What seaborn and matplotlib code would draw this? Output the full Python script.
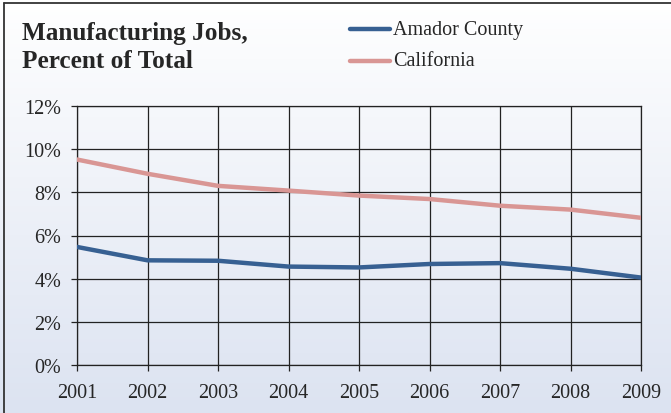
import numpy as np
import pandas as pd
import matplotlib
matplotlib.use("Agg")
import matplotlib.pyplot as plt
import seaborn as sns
from matplotlib.ticker import PercentFormatter

years = [2001, 2002, 2003, 2004, 2005, 2006, 2007, 2008, 2009]
amador = [5.47, 4.85, 4.83, 4.56, 4.52, 4.68, 4.72, 4.46, 4.05]
california = [9.52, 8.86, 8.30, 8.08, 7.85, 7.69, 7.38, 7.20, 6.82]
series_names = ["Amador County", "California"]
series_colors = ["#376092", "#d99694"]


def main():
    df = pd.DataFrame({
        "Year": years * 2,
        "Share": amador + california,
        "Series": [series_names[0]] * len(years) + [series_names[1]] * len(years),
    })

    sns.set_style("white")
    plt.rcParams["font.family"] = "serif"
    plt.rcParams["font.serif"] = ["Liberation Serif", "DejaVu Serif"]

    W, H = 671, 414
    fig = plt.figure(figsize=(W / 100, H / 100), dpi=100)

    # gradient background
    bg = fig.add_axes([0, 0, 1, 1], zorder=-10)
    grad = np.linspace(0, 1, 256).reshape(-1, 1)
    cmap = matplotlib.colors.LinearSegmentedColormap.from_list(
        "bg", ["#ffffff", "#dce3f1"])
    bg.imshow(grad, aspect="auto", cmap=cmap, extent=[0, 1, 0, 1], origin="upper")
    bg.set_axis_off()

    # frame: only top and left edges visible (cropped chart)
    edge = dict(color="#333333", linewidth=1.3, transform=fig.transFigure)
    fig.add_artist(matplotlib.lines.Line2D([3.5 / W, 1], [1 - 4 / H, 1 - 4 / H], **edge))
    fig.add_artist(matplotlib.lines.Line2D([3.5 / W, 3.5 / W], [0, 1 - 4 / H], **edge))

    ax = fig.add_axes([77 / W, 48 / H, 564 / W, 259 / H])
    ax.set_facecolor("none")
    sns.lineplot(data=df, x="Year", y="Share", hue="Series", palette=series_colors,
                 linewidth=3.2, ax=ax, legend=False, zorder=3)

    ax.set_xlim(2001, 2009)
    ax.set_ylim(0, 12)
    ax.set_xticks(years)
    ax.set_yticks(range(0, 13, 2))
    ax.yaxis.set_major_formatter(PercentFormatter(decimals=0))
    ax.grid(True, color="#222222", linewidth=0.9)
    for s in ax.spines.values():
        s.set_color("#222222")
        s.set_linewidth(0.9)
    ax.tick_params(axis="both", direction="out", length=4.5, width=0.9, color="#222222",
                   labelsize=14.5, left=True, bottom=True)
    ax.tick_params(axis="x", pad=8.5)
    ax.tick_params(axis="y", pad=7)
    ax.set_xlabel("")
    ax.set_ylabel("")

    fig.text(22 / W, 1 - 47.5 / H, "Manufacturing Jobs,\nPercent of Total",
             fontsize=18.2, fontweight="bold", va="center", ha="left", linespacing=1.25)

    for i, (name, col) in enumerate(zip(series_names, series_colors)):
        yy = 1 - (30 + 32 * i) / H
        fig.add_artist(matplotlib.lines.Line2D([350 / W, 390 / W], [yy, yy],
                                               color=col, linewidth=3.2,
                                               transform=fig.transFigure))
        fig.text(393 / W, yy, name, fontsize=14.5, va="center", ha="left")

    fig.savefig("out.png", dpi=100)
    plt.close(fig)


if __name__ == "__main__":
    main()
